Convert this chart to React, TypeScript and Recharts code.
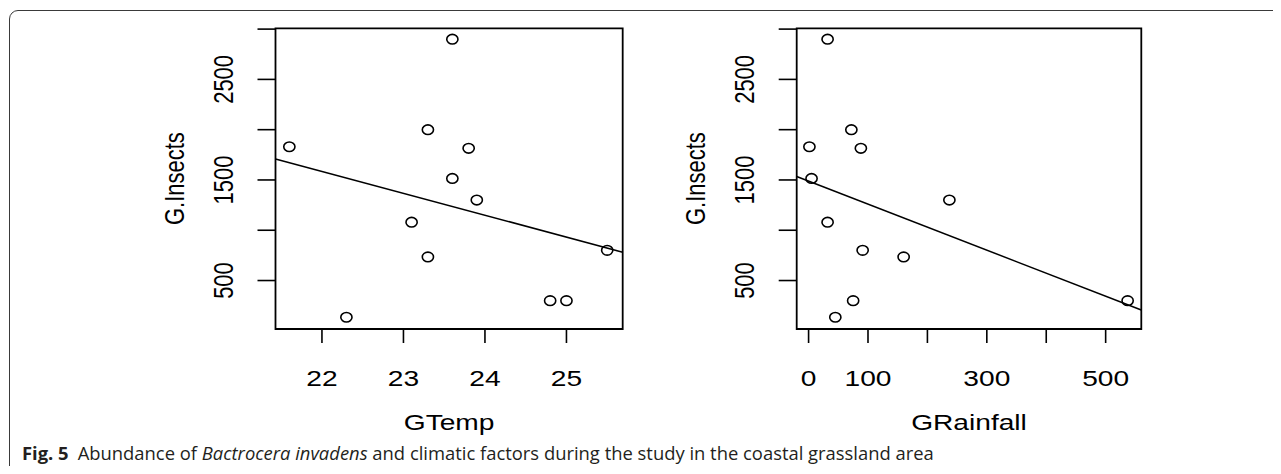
import { ScatterChart, Scatter, XAxis, YAxis, ReferenceArea, ReferenceLine, Label } from 'recharts'

// monthly values (same insect counts in both panels)
const insects = [1830, 135, 1080, 2000, 735, 2900, 1515, 1815, 1300, 300, 300, 800]
const temp = [21.6, 22.3, 23.1, 23.3, 23.3, 23.6, 23.6, 23.8, 23.9, 24.8, 25.0, 25.5]
const rainfall = [1.4, 45, 32, 72, 160, 32, 5, 88, 237, 75, 537, 91]

const yTicks = [500, 1000, 1500, 2000, 2500, 3000]
const yShown = [500, 1500, 2500]
const tempTicks = [22, 23, 24, 25]
const rainTicks = [0, 100, 200, 300, 400, 500]
const rainShown = [0, 100, 300, 500]

const FONT = '"Liberation Sans", Arial, sans-serif'
const SX = 1.28 // the figure is stretched sideways

// least squares line, like abline(lm(y ~ x))
function fit(xs: number[], ys: number[]) {
  const n = xs.length
  const mx = xs.reduce((s, v) => s + v, 0) / n
  const my = ys.reduce((s, v) => s + v, 0) / n
  let sxy = 0
  let sxx = 0
  xs.forEach((x, i) => {
    sxy += (x - mx) * (ys[i] - my)
    sxx += (x - mx) * (x - mx)
  })
  const b = sxy / sxx
  return [my - b * mx, b]
}

function Ring(props: any) {
  return <ellipse cx={props.cx} cy={props.cy} rx={5.6} ry={4.8} fill="none" stroke="#000" strokeWidth={1.6} />
}

interface PanelProps {
  left: number
  width: number
  yAxisWidth: number
  xs: number[]
  xDomain: [number, number]
  xTicks: number[]
  xShown: number[]
  xLabel: string
}

function Panel({ left, width, yAxisWidth, xs, xDomain, xTicks, xShown, xLabel }: PanelProps) {
  const data = xs.map((x, i) => ({ x, y: insects[i] }))
  const [a, b] = fit(xs, insects)
  const yDomain: [number, number] = [18, 3008]
  return (
    <div style={{ position: 'absolute', left, top: 0 }}>
      <ScatterChart width={width} height={474} margin={{ top: 28.3, right: 10, bottom: 0, left: 0 }}>
        <XAxis
          type="number"
          dataKey="x"
          domain={xDomain}
          ticks={xTicks}
          interval={0}
          allowDataOverflow
          height={145}
          axisLine={false}
          tickLine={{ stroke: '#000', strokeWidth: 1.6 }}
          tickSize={14}
          tickMargin={43}
          tick={(p: any) => (
            <text
              transform={`translate(${p.x},${p.y}) scale(${SX},1)`}
              textAnchor="middle"
              fontSize={22}
              fontFamily={FONT}
              fill="#000"
            >
              {xShown.includes(p.payload.value) ? String(p.payload.value) : ''}
            </text>
          )}
        >
          <Label
            content={(p: any) => {
              const vb = p.viewBox
              return (
                <text
                  transform={`translate(${vb.x + vb.width / 2},${vb.y + 101}) scale(${SX},1)`}
                  textAnchor="middle"
                  fontSize={22}
                  fontFamily={FONT}
                  fill="#000"
                >
                  {xLabel}
                </text>
              )
            }}
          />
        </XAxis>
        <YAxis
          type="number"
          dataKey="y"
          domain={yDomain}
          ticks={yTicks}
          interval={0}
          allowDataOverflow
          width={yAxisWidth}
          axisLine={false}
          tickLine={{ stroke: '#000', strokeWidth: 1.6 }}
          tickSize={18}
          tickMargin={24.4}
          tick={(p: any) => (
            <text
              transform={`translate(${p.x},${p.y}) scale(${SX},1) rotate(-90)`}
              textAnchor="middle"
              fontSize={22}
              fontFamily={FONT}
              fill="#000"
            >
              {yShown.includes(p.payload.value) ? String(p.payload.value) : ''}
            </text>
          )}
        >
          <Label
            content={(p: any) => {
              const vb = p.viewBox
              return (
                <text
                  transform={`translate(${vb.x + vb.width - 91.9},${vb.y + vb.height / 2}) scale(${SX},1) rotate(-90)`}
                  textAnchor="middle"
                  fontSize={22}
                  fontFamily={FONT}
                  fill="#000"
                >
                  G.Insects
                </text>
              )
            }}
          />
        </YAxis>
        <ReferenceArea
          x1={xDomain[0]}
          x2={xDomain[1]}
          y1={yDomain[0]}
          y2={yDomain[1]}
          fill="none"
          stroke="#000"
          strokeWidth={1.8}
          ifOverflow="visible"
        />
        <ReferenceLine
          segment={[
            { x: xDomain[0], y: a + b * xDomain[0] },
            { x: xDomain[1], y: a + b * xDomain[1] },
          ]}
          stroke="#000"
          strokeWidth={1.5}
          ifOverflow="visible"
        />
        <Scatter data={data} shape={Ring} isAnimationActive={false} />
      </ScatterChart>
    </div>
  )
}

export default function App() {
  return (
    <div style={{ position: 'relative', margin: -8, width: 1281, height: 474, overflow: 'hidden', background: '#fff' }}>
      <div
        style={{
          position: 'absolute',
          left: 9,
          top: 10,
          width: 1400,
          height: 1000,
          border: '1.3px solid #3a3a3a',
          borderRadius: 9,
        }}
      />
      <Panel
        left={120}
        width={512.7}
        yAxisWidth={155.5}
        xs={temp}
        xDomain={[21.43, 25.69]}
        xTicks={tempTicks}
        xShown={tempTicks}
        xLabel="GTemp"
      />
      <Panel
        left={640}
        width={511.3}
        yAxisWidth={156.7}
        xs={rainfall}
        xDomain={[-20, 560]}
        xTicks={rainTicks}
        xShown={rainShown}
        xLabel="GRainfall"
      />
      <div
        style={{
          position: 'absolute',
          left: 22,
          top: 441,
          fontFamily: '"Open Sans", "Noto Sans", sans-serif',
          fontSize: 18.4,
          lineHeight: '23px',
          color: '#231f20',
          whiteSpace: 'nowrap',
        }}
      >
        <b style={{ marginRight: 9 }}>Fig. 5</b>
        Abundance of <i>Bactrocera invadens</i> and climatic factors during the study in the coastal grassland area
      </div>
    </div>
  )
}
